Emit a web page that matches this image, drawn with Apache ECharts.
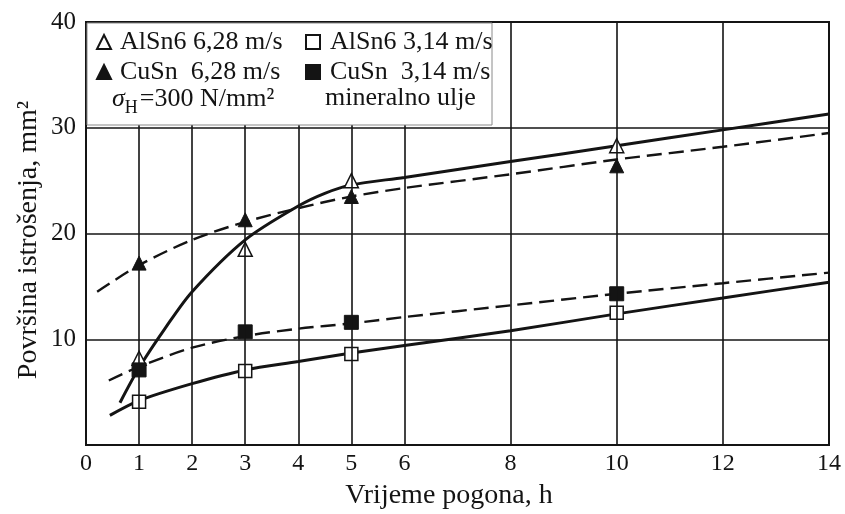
<!DOCTYPE html>
<html>
<head>
<meta charset="utf-8">
<script src="https://cdn.jsdelivr.net/npm/echarts@6/dist/echarts.min.js"></script>
<style>html,body{margin:0;padding:0;background:#fff}#c{width:845px;height:514px}</style>
</head>
<body>
<div id="c"></div>
<script>
// Measured points (hours, mm^2)
const markerHours = [1, 3, 5, 10];
const alsn6Fast = [8.2, 18.5, 25.0, 28.3];   // AlSn6 6,28 m/s (open triangle)
const cusnFast  = [17.2, 21.3, 23.5, 26.4];  // CuSn 6,28 m/s (filled triangle)
const alsn6Slow = [4.1, 7.0, 8.6, 12.5];     // AlSn6 3,14 m/s (open square)
const cusnSlow  = [7.1, 10.7, 11.6, 14.3];   // CuSn 3,14 m/s (filled square)

// Fitted curves
const curveAlsn6FastX = [0.64, 1, 1.5, 2, 3, 4, 4.5, 5, 6, 8, 10, 12, 14];
const curveAlsn6FastY = [4.0, 7.3, 11.1, 14.5, 19.4, 22.6, 23.8, 24.6, 25.3, 26.8, 28.3, 29.8, 31.3];
const curveCusnFastX  = [0.21, 1, 2, 3, 4, 5, 6, 8, 10, 12, 14];
const curveCusnFastY  = [14.5, 17.0, 19.4, 21.1, 22.4, 23.5, 24.3, 25.6, 27.0, 28.2, 29.5];
const curveAlsn6SlowX = [0.45, 1, 2, 3, 4, 5, 6, 8, 10, 12, 14];
const curveAlsn6SlowY = [2.8, 4.2, 5.8, 7.1, 7.9, 8.7, 9.4, 10.8, 12.4, 13.9, 15.4];
const curveCusnSlowX  = [0.43, 1, 2, 3, 4, 5, 6, 8, 10, 12, 14];
const curveCusnSlowY  = [6.1, 7.4, 9.2, 10.3, 11.0, 11.5, 12.1, 13.2, 14.3, 15.3, 16.3];

const xTickLabels = [0, 1, 2, 3, 4, 5, 6, 8, 10, 12, 14];
const xGridLines = [1, 2, 3, 4, 5, 6, 8, 10, 12];
const yTickLabels = [10, 20, 30, 40];

const names = ['AlSn6 6,28 m/s', 'CuSn  6,28 m/s', 'AlSn6 3,14 m/s', 'CuSn  3,14 m/s'];
const noteLeft = 'σ';
const noteSub = 'H';
const noteRest = '=300 N/mm²';
const noteRight = 'mineralno ulje';
const xTitle = 'Vrijeme pogona, h';
const yTitle = 'Površina istrošenja, mm²';

const FONT = '"Liberation Serif", "Times New Roman", serif';
const INK = '#141414';

function pairs(xs, ys) { return xs.map((x, i) => [x, ys[i]]); }

const chart = echarts.init(document.getElementById('c'), null, { renderer: 'canvas' });

const curveBase = { type: 'line', smooth: 0.3, showSymbol: false, symbol: 'none', z: 2, silent: true };

const option = {
  backgroundColor: '#fff',
  animation: false,
  grid: { left: 86, right: 16, top: 22, bottom: 69, show: true, borderColor: INK, borderWidth: 2, backgroundColor: 'transparent' },
  xAxis: {
    type: 'value', min: 0, max: 14, interval: 1,
    axisLine: { show: true, lineStyle: { color: INK, width: 2 } },
    axisTick: { show: false },
    splitLine: { show: false },
    axisLabel: {
      color: INK, fontFamily: FONT, fontSize: 24, margin: 7,
      formatter: v => (xTickLabels.includes(v) ? String(v) : '')
    }
  },
  yAxis: {
    type: 'value', min: 0, max: 40, interval: 10,
    axisLine: { show: true, lineStyle: { color: INK, width: 2 } },
    axisTick: { show: false },
    splitLine: { show: true, lineStyle: { color: INK, width: 1.6 } },
    axisLabel: {
      color: INK, fontFamily: FONT, fontSize: 25, margin: 10,
      formatter: v => (yTickLabels.includes(v) ? String(v) : '')
    }
  },
  legend: [
    {
      data: [names[0], names[1]], orient: 'vertical', left: 91, top: 24, itemGap: 4,
      itemWidth: 14, itemHeight: 14, z: 20, selectedMode: false,
      textStyle: { fontFamily: FONT, fontSize: 26, color: INK, lineHeight: 26, padding: [0, 0, 0, 4] }
    },
    {
      data: [names[2], names[3]], orient: 'vertical', left: 300, top: 24, itemGap: 4,
      itemWidth: 14, itemHeight: 14, z: 20, selectedMode: false,
      textStyle: { fontFamily: FONT, fontSize: 26, color: INK, lineHeight: 26, padding: [0, 0, 0, 5] }
    }
  ],
  graphic: [
    { type: 'rect', z: 10, shape: { x: 87, y: 23, width: 405, height: 102 },
      style: { fill: '#fff', stroke: '#8a8a8a', lineWidth: 1 } },
    { type: 'text', z: 20, x: 112, y: 99,
      style: {
        text: '{s|' + noteLeft + '}{b|' + noteSub + '}{t|' + noteRest + '}',
        textVerticalAlign: 'middle',
        rich: {
          s: { fontFamily: FONT, fontSize: 26, fontStyle: 'italic', fill: INK, lineHeight: 36, verticalAlign: 'middle' },
          b: { fontFamily: FONT, fontSize: 18, fill: INK, lineHeight: 36, verticalAlign: 'bottom', padding: [0, 2, 0, 0] },
          t: { fontFamily: FONT, fontSize: 26, fill: INK, lineHeight: 36, verticalAlign: 'middle' }
        }
      } },
    { type: 'text', z: 20, x: 325, y: 98,
      style: { text: noteRight, fontFamily: FONT, fontSize: 26, fill: INK, textVerticalAlign: 'middle' } },
    { type: 'text', z: 20, x: 449, y: 496,
      style: { text: xTitle, fontFamily: FONT, fontSize: 28, fill: INK, textAlign: 'center', textVerticalAlign: 'middle' } },
    { type: 'text', z: 20, x: 29, y: 240, rotation: Math.PI / 2,
      style: { text: yTitle, fontFamily: FONT, fontSize: 28, fill: INK, textAlign: 'center', textVerticalAlign: 'middle' } }
  ],
  series: [
    {
      type: 'line', data: [], silent: true, z: 1,
      markLine: {
        silent: true, symbol: ['none', 'none'], label: { show: false },
        lineStyle: { color: INK, width: 1.6, type: 'solid' },
        data: xGridLines.map(v => ({ xAxis: v }))
      }
    },
    Object.assign({}, curveBase, { data: pairs(curveAlsn6FastX, curveAlsn6FastY), lineStyle: { color: INK, width: 3 } }),
    Object.assign({}, curveBase, { data: pairs(curveCusnFastX, curveCusnFastY), lineStyle: { color: INK, width: 2.4, type: [15, 7] } }),
    Object.assign({}, curveBase, { data: pairs(curveAlsn6SlowX, curveAlsn6SlowY), lineStyle: { color: INK, width: 3 } }),
    Object.assign({}, curveBase, { data: pairs(curveCusnSlowX, curveCusnSlowY), lineStyle: { color: INK, width: 2.4, type: [15, 7] } }),
    { name: names[0], type: 'scatter', z: 4, symbol: 'triangle', symbolSize: 14,
      itemStyle: { color: '#fff', borderColor: INK, borderWidth: 1.5, opacity: 1 },
      data: pairs(markerHours, alsn6Fast) },
    { name: names[1], type: 'scatter', z: 4, symbol: 'triangle', symbolSize: 14,
      itemStyle: { color: INK, borderColor: INK, borderWidth: 1, opacity: 1 },
      data: pairs(markerHours, cusnFast) },
    { name: names[2], type: 'scatter', z: 4, symbol: 'rect', symbolSize: 13,
      itemStyle: { color: '#fff', borderColor: INK, borderWidth: 1.5, opacity: 1 },
      data: pairs(markerHours, alsn6Slow) },
    { name: names[3], type: 'scatter', z: 4, symbol: 'rect', symbolSize: 14,
      itemStyle: { color: INK, borderColor: INK, borderWidth: 1, opacity: 1 },
      data: pairs(markerHours, cusnSlow) }
  ]
};
chart.setOption(option);
</script>
</body>
</html>
